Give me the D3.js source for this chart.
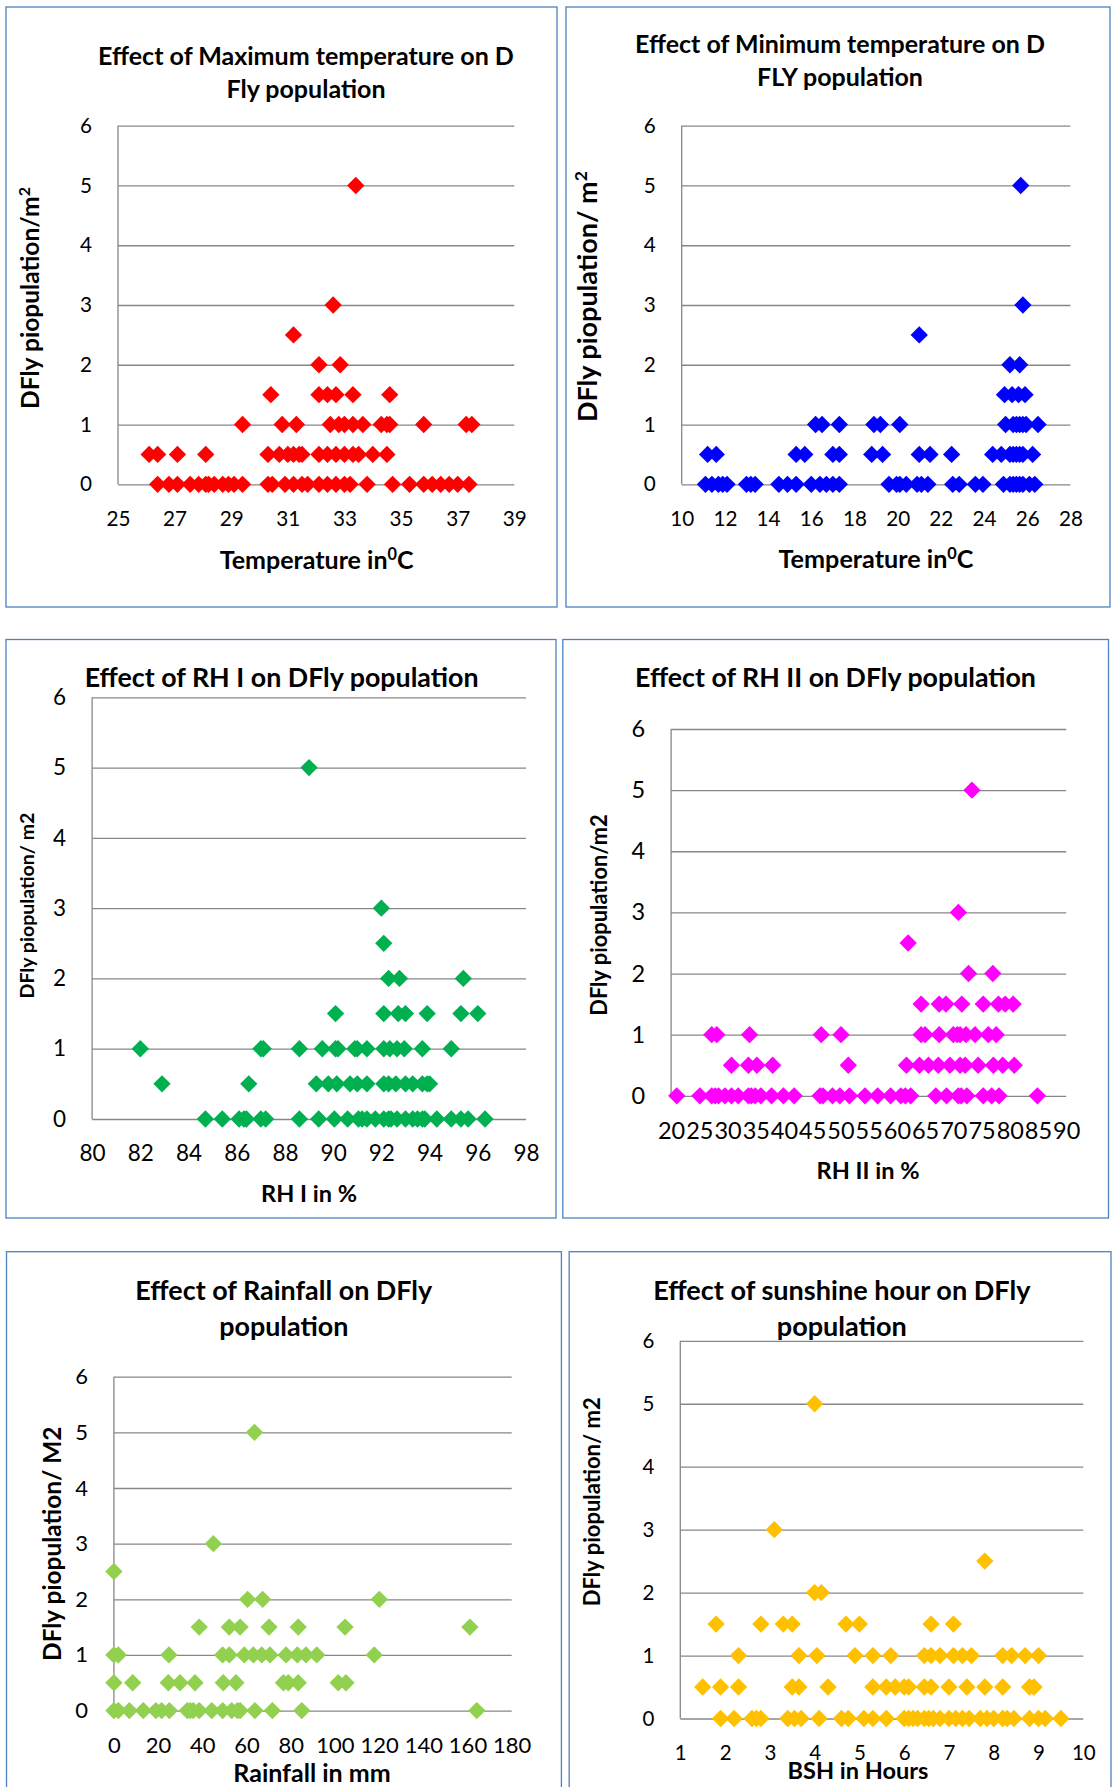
<!DOCTYPE html>
<html>
<head>
<meta charset="utf-8">
<script src="https://cdn.jsdelivr.net/npm/d3@7"></script>
<style>
  body { margin: 0; background: #fff; }
  svg text { font-family: Lato, "Open Sans", sans-serif; fill: #000; }
</style>
</head>
<body>
<svg id="chart" width="1113" height="1787"></svg>
<script>
// [x, DFly population]
const maxTemp = [
  [33.4,5],[32.6,3],[31.2,2.5],[32.1,2],[32.85,2],
  [30.4,1.5],[32.1,1.5],[32.4,1.5],[32.7,1.5],[33.3,1.5],[34.6,1.5],
  [29.4,1],[30.8,1],[31.3,1],[32.5,1],[32.8,1],[33.0,1],[33.3,1],[33.65,1],[34.3,1],[34.5,1],[34.6,1],[35.8,1],[37.3,1],[37.5,1],
  [26.1,0.5],[26.4,0.5],[27.1,0.5],[28.1,0.5],[30.3,0.5],[30.7,0.5],[31.0,0.5],[31.2,0.5],[31.4,0.5],[31.5,0.5],
  [32.1,0.5],[32.4,0.5],[32.7,0.5],[33.0,0.5],[33.3,0.5],[33.5,0.5],[34.0,0.5],[34.5,0.5],
  [26.4,0],[26.8,0],[27.1,0],[27.55,0],[27.85,0],[28.1,0],[28.2,0],[28.4,0],[28.7,0],[28.9,0],[29.1,0],[29.4,0],
  [30.3,0],[30.45,0],[30.9,0],[31.2,0],[31.5,0],[31.7,0],[32.1,0],[32.4,0],[32.7,0],[33.0,0],[33.2,0],[33.8,0],
  [34.7,0],[35.3,0],[35.8,0],[36.1,0],[36.4,0],[36.7,0],[37.0,0],[37.4,0]
];
const minTemp = [
  [25.7,5],[25.8,3],[21.0,2.5],[25.2,2],[25.65,2],
  [24.95,1.5],[25.3,1.5],[25.6,1.5],[25.9,1.5],
  [16.2,1],[16.5,1],[17.3,1],[18.9,1],[19.2,1],[20.1,1],[25.0,1],[25.35,1],[25.5,1],[25.65,1],[25.8,1],[25.95,1],[26.5,1],
  [11.2,0.5],[11.6,0.5],[15.3,0.5],[15.7,0.5],[17.0,0.5],[17.3,0.5],[18.8,0.5],[19.3,0.5],[21.0,0.5],[21.5,0.5],[22.5,0.5],
  [24.4,0.5],[24.8,0.5],[25.2,0.5],[25.35,0.5],[25.5,0.5],[25.65,0.5],[25.8,0.5],[26.25,0.5],
  [11.1,0],[11.4,0],[11.7,0],[11.9,0],[12.1,0],[13.0,0],[13.2,0],[13.4,0],[14.5,0],[14.9,0],[15.3,0],
  [16.0,0],[16.4,0],[16.7,0],[17.0,0],[17.3,0],[19.6,0],[19.95,0],[20.1,0],[20.4,0],[20.9,0],[21.1,0],[21.4,0],
  [22.55,0],[22.85,0],[23.6,0],[23.95,0],[24.9,0],[25.2,0],[25.35,0],[25.5,0],[25.65,0],[25.8,0],[26.1,0],[26.35,0]
];
const rh1 = [
  [89.0,5],[92.0,3],[92.1,2.5],[92.3,2],[92.75,2],[95.4,2],
  [90.1,1.5],[92.1,1.5],[92.7,1.5],[93.0,1.5],[93.9,1.5],[95.3,1.5],[96.0,1.5],
  [82.0,1],[87.0,1],[87.1,1],[88.6,1],[89.55,1],[90.1,1],[90.2,1],[90.9,1],[91.0,1],[91.4,1],[92.1,1],[92.35,1],[92.65,1],[92.95,1],[93.7,1],[94.9,1],
  [82.9,0.5],[86.5,0.5],[89.3,0.5],[89.8,0.5],[90.15,0.5],[90.7,0.5],[91.0,0.5],[91.4,0.5],[92.1,0.5],[92.3,0.5],
  [92.6,0.5],[93.0,0.5],[93.3,0.5],[93.7,0.5],[93.9,0.5],[94.0,0.5],
  [84.7,0],[85.4,0],[86.1,0],[86.3,0],[86.4,0],[87.0,0],[87.2,0],[88.6,0],[89.4,0],[90.05,0],[90.6,0],[91.05,0],[91.2,0],
  [91.4,0],[91.75,0],[92.1,0],[92.3,0],[92.4,0],[92.65,0],[93.0,0],[93.3,0],[93.5,0],[93.7,0],[93.8,0],[94.3,0],[94.9,0],
  [95.3,0],[95.6,0],[96.3,0]
];
const rh2 = [
  [73.3,5],[70.9,3],[62.0,2.5],[72.7,2],[77.0,2],
  [64.3,1.5],[67.5,1.5],[68.7,1.5],[71.5,1.5],[75.3,1.5],[78.0,1.5],[79.2,1.5],[80.6,1.5],
  [27.2,1],[28.1,1],[33.9,1],[46.6,1],[50.1,1],[64.3,1],[65.0,1],[67.5,1],[70.0,1],[70.7,1],[71.2,1],[72.25,1],[73.85,1],[76.2,1],[77.6,1],
  [30.7,0.5],[33.7,0.5],[35.2,0.5],[38.0,0.5],[51.4,0.5],[61.7,0.5],[64.0,0.5],[65.6,0.5],[67.35,0.5],[69.4,0.5],
  [71.2,0.5],[72.1,0.5],[74.4,0.5],[77.1,0.5],[78.75,0.5],[80.8,0.5],
  [21.0,0],[25.1,0],[27.2,0],[27.8,0],[28.4,0],[29.55,0],[30.7,0],[31.9,0],[33.7,0],[34.2,0],[34.9,0],[35.9,0],[37.8,0],
  [39.9,0],[41.8,0],[46.4,0],[46.9,0],[48.6,0],[49.9,0],[51.6,0],[54.35,0],[56.6,0],[58.9,0],[60.7,0],[61.5,0],[62.45,0],
  [66.9,0],[68.8,0],[70.9,0],[71.4,0],[72.4,0],[75.3,0],[76.8,0],[78.1,0],[84.9,0]
];
const rainfall = [
  [63.6,5],[45.0,3],[0,2.5],[60.5,2],[67.3,2],[120.1,2],
  [38.6,1.5],[52.2,1.5],[57.1,1.5],[70.2,1.5],[83.4,1.5],[104.6,1.5],[161.1,1.5],
  [0,1],[2.0,1],[24.9,1],[49.2,1],[52.2,1],[59.0,1],[63.1,1],[66.9,1],[70.6,1],[77.9,1],[83.0,1],[86.9,1],[91.8,1],[117.8,1],
  [0,0.5],[8.5,0.5],[24.6,0.5],[29.9,0.5],[36.7,0.5],[49.5,0.5],[55.2,0.5],[76.7,0.5],[78.9,0.5],[83.4,0.5],[101.5,0.5],[105.0,0.5],
  [0,0],[2.0,0],[7.0,0],[13.3,0],[19.0,0],[21.6,0],[25.1,0],[33.2,0],[34.5,0],[35.9,0],[38.6,0],[44.3,0],[49.2,0],
  [53.3,0],[55.9,0],[57.1,0],[63.8,0],[71.7,0],[85.0,0],[164.2,0]
];
const sunshine = [
  [4.0,5],[3.1,3],[7.8,2.5],[4.0,2],[4.15,2],
  [1.8,1.5],[2.8,1.5],[3.3,1.5],[3.5,1.5],[4.7,1.5],[5.0,1.5],[6.6,1.5],[7.1,1.5],
  [2.3,1],[3.65,1],[4.05,1],[4.9,1],[5.3,1],[5.7,1],[6.45,1],[6.6,1],[6.8,1],[7.1,1],[7.3,1],[7.5,1],[8.2,1],[8.4,1],[8.7,1],[9.0,1],
  [1.5,0.5],[1.9,0.5],[2.3,0.5],[3.5,0.5],[3.65,0.5],[4.3,0.5],[5.3,0.5],[5.6,0.5],[5.8,0.5],[6.0,0.5],[6.1,0.5],
  [6.45,0.5],[6.6,0.5],[7.0,0.5],[7.4,0.5],[7.8,0.5],[8.2,0.5],[8.8,0.5],[8.9,0.5],
  [1.9,0],[2.2,0],[2.6,0],[2.7,0],[2.8,0],[3.4,0],[3.55,0],[3.7,0],[4.1,0],[4.6,0],[4.75,0],[5.1,0],[5.3,0],[5.6,0],
  [6.0,0],[6.1,0],[6.2,0],[6.3,0],[6.45,0],[6.55,0],[6.65,0],[6.8,0],[7.0,0],[7.15,0],[7.3,0],[7.45,0],[7.7,0],[7.85,0],
  [8.0,0],[8.2,0],[8.3,0],[8.45,0],[8.8,0],[9.0,0],[9.15,0],[9.5,0]
];

const yTicks = [0, 1, 2, 3, 4, 5, 6];
// "^" puts the next character in superscript
const titles = [
  ['Effect of Maximum temperature on D', 'Fly population'],
  ['Effect of Minimum temperature on D', 'FLY population'],
  ['Effect of RH I on DFly population'],
  ['Effect of RH II on DFly population'],
  ['Effect of Rainfall on DFly', 'population'],
  ['Effect of sunshine hour on DFly', 'population']
];
const yLabels = ['DFly piopulation/m^2', 'DFly piopulation/ m^2', 'DFly piopulation/ m2',
  'DFly piopulation/m2', 'DFly piopulation/ M2', 'DFly piopulation/ m2'];
const xLabels = ['Temperature in^0C', 'Temperature in^0C', 'RH I in %', 'RH II in %', 'Rainfall in mm', 'BSH in Hours'];

const panels = [
  {data: maxTemp, color: '#ff0000', xDomain: [25, 39], xStep: 2,
   box: [6, 7, 557, 607], plot: [118, 125.7, 514.3, 484.3], tick: 20.7,
   tx: 306, ty: [56, 89], tw: 416, yl: [30, 298], ylw: 222, xl: [316.6, 560], xlw: 194},
  {data: minTemp, color: '#0000ff', xDomain: [10, 28], xStep: 2,
   box: [566, 7, 1110, 607], plot: [681.7, 125.7, 1070.4, 484.3], tick: 20.7,
   tx: 840, ty: [44.7, 77], tw: 410, yl: [588, 296.6], ylw: 251, xl: [876, 559.5], xlw: 195},
  {data: rh1, color: '#00b050', xDomain: [80, 98], xStep: 2,
   box: [6, 639.5, 556, 1218], plot: [92.1, 697.3, 526, 1119], tick: 22.5,
   tx: 281.6, ty: [678], tw: 394, yl: [26.8, 905.5], ylw: 186, xl: [309, 1193.6], xlw: 96},
  {data: rh2, color: '#ff00ff', xDomain: [20, 90], xStep: 5,
   box: [562.8, 639.5, 1108.5, 1218], plot: [671.1, 729, 1066.2, 1095.8], tick: 23.5,
   tx: 835.5, ty: [678], tw: 401, yl: [599.5, 915], ylw: 201.5, xl: [868, 1171], xlw: 103},
  {data: rainfall, color: '#92d050', xDomain: [0, 180], xStep: 20,
   box: [6.5, 1251.7, 561.4, 1800], plot: [113.9, 1376.7, 511.7, 1710.6], tick: 22,
   tx: 283.8, ty: [1290.4, 1327], tw: 297, yl: [52, 1543.7], ylw: 234.6, xl: [312, 1773.3], xlw: 157.5},
  {data: sunshine, color: '#ffc000', xDomain: [1, 10], xStep: 1,
   box: [569.2, 1251.7, 1111, 1800], plot: [680.3, 1340.8, 1083.3, 1718.5], tick: 20.5,
   tx: 841.8, ty: [1291, 1327], tw: 377.5, yl: [592.3, 1501.7], ylw: 209, xl: [858, 1770.5], xlw: 141}
];

const svg = d3.select('#chart');

function rich(sel, str) {
  str.split(/\^(.)/).forEach((s, i) => {
    if (!s) return;
    const t = sel.append('tspan').text(s);
    if (i % 2) t.attr('baseline-shift', 'super').attr('font-size', '65%');
  });
}
// scale font so that the text spans the width measured on the reference
function fit(sel, w) {
  sel.attr('font-size', 20);
  const len = sel.node().getComputedTextLength();
  sel.attr('font-size', 20 * w / len);
}

panels.forEach((p, k) => {
  const g = svg.append('g');
  const [bx0, by0, bx1, by1] = p.box;
  g.append('rect')
    .attr('x', bx0).attr('y', by0)
    .attr('width', bx1 - bx0).attr('height', by1 - by0)
    .attr('fill', 'none').attr('stroke', '#4f81bd').attr('stroke-width', 1.3);

  const [l, t, r, b] = p.plot;
  const x = d3.scaleLinear().domain(p.xDomain).range([l, r]);
  const y = d3.scaleLinear().domain([0, 6]).range([b, t]);
  const xTicks = d3.range(p.xDomain[0], p.xDomain[1] + p.xStep / 2, p.xStep);

  g.append('g')
    .attr('transform', `translate(${l},0)`)
    .call(d3.axisLeft(y).tickValues(yTicks).tickFormat(d3.format('d')).tickSize(-(r - l)).tickPadding(26))
    .attr('font-size', p.tick)
    .call(a => a.select('.domain').remove())
    .call(a => a.selectAll('line').attr('stroke', '#878787').attr('stroke-width', 1.3));

  g.append('g')
    .attr('transform', `translate(0,${b})`)
    .call(d3.axisBottom(x).tickValues(xTicks).tickFormat(d3.format('d')).tickSize(0))
    .attr('font-size', p.tick)
    .call(a => a.select('.domain').remove())
    .call(a => a.selectAll('text').attr('y', 34.5).attr('dy', '0.35em'));

  g.append('line')
    .attr('x1', l).attr('x2', l).attr('y1', t).attr('y2', b)
    .attr('stroke', '#878787').attr('stroke-width', 1.3);

  g.selectAll('path.pt')
    .data(p.data)
    .join('path')
    .attr('class', 'pt')
    .attr('d', d3.symbol(d3.symbolSquare, 150))
    .attr('transform', d => `translate(${x(d[0])},${y(d[1])}) rotate(45)`)
    .attr('fill', p.color);

  // chart title
  const tt = g.append('text').attr('text-anchor', 'middle').attr('font-weight', 'bold');
  titles[k].forEach((line, i) => {
    tt.append('tspan').attr('x', p.tx).attr('y', p.ty[i]).attr('dy', '0.35em').text(line);
  });
  tt.attr('font-size', 20);
  const first = tt.select('tspan').node().getComputedTextLength();
  tt.attr('font-size', 20 * p.tw / first);

  // axis titles
  const yt = g.append('text')
    .attr('text-anchor', 'middle').attr('font-weight', 'bold').attr('dy', '0.35em')
    .attr('transform', `translate(${p.yl[0]},${p.yl[1]}) rotate(-90)`);
  rich(yt, yLabels[k]);
  fit(yt, p.ylw);

  const xt = g.append('text')
    .attr('text-anchor', 'middle').attr('font-weight', 'bold').attr('dy', '0.35em')
    .attr('x', p.xl[0]).attr('y', p.xl[1]);
  rich(xt, xLabels[k]);
  fit(xt, p.xlw);
});
</script>
</body>
</html>
